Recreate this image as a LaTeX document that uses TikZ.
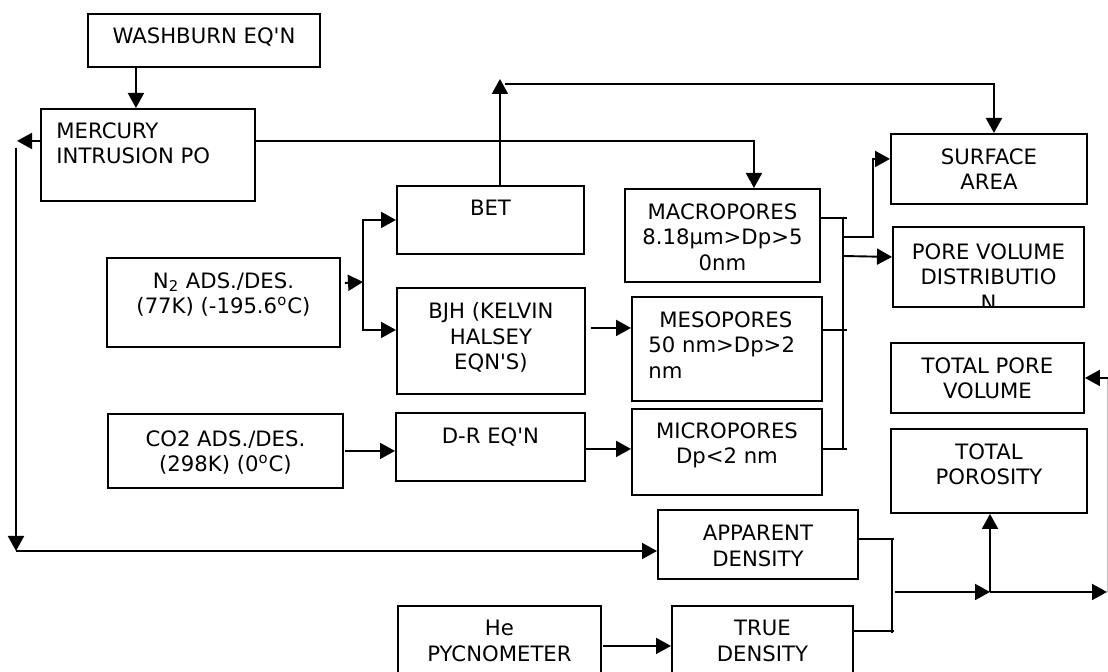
\documentclass[tikz,border=0pt]{standalone}
\usepackage{fontspec}
\setmainfont{DejaVu Sans}
\usepackage{tikz}
\usetikzlibrary{arrows.meta}
\tikzset{
    block/.style={
        draw, line width = 0.95pt,
        inner sep = 0pt,
        anchor = north west
    },
    lbl/.style = {
        inner sep = 0pt, align = center, anchor = north,
        font = \fontsize{10.6}{12.8}\selectfont
    },
    line/.style = {line width = 0.95pt, -{Triangle[length=7.5pt,width=8pt]}},
    bus/.style = {line width = 0.95pt}
}

\begin{document}
\begin{tikzpicture}[x=0.5pt, y=-0.5pt]

    \useasboundingbox (0,0) rectangle (1108,672);

    % Boxes
    \node[block, minimum width=116pt, minimum height=26.5pt] (wash) at (87,13) {};
    \node[block, minimum width=107pt, minimum height=46pt] (merc) at (40,108) {};
    \node[block, minimum width=93.5pt, minimum height=34pt] (bet) at (396,185) {};
    \node[block, minimum width=97.5pt, minimum height=46.5pt] (macro) at (624,188) {};
    \node[block, minimum width=98pt, minimum height=35pt] (surf) at (890,133) {};
    \node[block, minimum width=95.5pt, minimum height=40pt] (pvd) at (892,226) {};
    \node[block, minimum width=116.5pt, minimum height=44.5pt] (ntwo) at (106,257) {};
    \node[block, minimum width=94pt, minimum height=53pt] (bjh) at (396,287) {};
    \node[block, minimum width=95pt, minimum height=52pt] (meso) at (631,296) {};
    \node[block, minimum width=117.5pt, minimum height=37pt] (cotwo) at (107,413) {};
    \node[block, minimum width=94.5pt, minimum height=34pt] (dr) at (395,412) {};
    \node[block, minimum width=95pt, minimum height=43pt] (micro) at (631,408) {};
    \node[block, minimum width=96.5pt, minimum height=35pt] (tpv) at (890,342) {};
    \node[block, minimum width=98pt, minimum height=42pt] (tpor) at (890,428) {};
    \node[block, minimum width=100pt, minimum height=34.5pt] (app) at (657,509) {};
    \node[block, minimum width=90.5pt, minimum height=40pt] (tru) at (671,605) {};
    \node[block, minimum width=101.5pt, minimum height=40pt] (he) at (397,605) {};

    % Labels
    \node[lbl] (wash-t) at ([yshift=-7pt]wash.north) {WASHBURN EQ\textquotesingle N};
    \node[lbl, align=left, anchor=north west] (merc-t) at ([xshift=8pt,yshift=-7pt]merc.north west) {MERCURY\\INTRUSION PO};
    \node[lbl] (bet-t) at ([yshift=-7.5pt]bet.north) {BET};
    \node[lbl] (macro-t) at ([yshift=-7.5pt]macro.north) {MACROPORES\\8.18μm>Dp>5\\0nm};
    \node[lbl] (surf-t) at ([yshift=-7.5pt]surf.north) {SURFACE\\AREA};
    \begin{scope}
        \clip (pvd.south west) rectangle (pvd.north east);
        \node[lbl] (pvd-t) at ([yshift=-8.5pt]pvd.north) {PORE VOLUME\\DISTRIBUTIO\\N};
    \end{scope}
    \node[lbl] (ntwo-t) at ([yshift=-7.5pt]ntwo.north) {N\textsubscript{2} ADS./DES.\\(77K) (-195.6\textsuperscript{o}C)};
    \node[lbl] (bjh-t) at ([yshift=-7.5pt]bjh.north) {BJH (KELVIN\\HALSEY\\EQN\textquotesingle S)};
    \node[lbl, align=left, anchor=north west] (meso-t) at ([xshift=8.5pt,yshift=-7.5pt]meso.north west) {\hspace*{5.5pt}MESOPORES\\50 nm>Dp>2\\nm};
    \node[lbl] (cotwo-t) at ([yshift=-8.5pt]cotwo.north) {CO2 ADS./DES.\\(298K) (0\textsuperscript{o}C)};
    \node[lbl] (dr-t) at ([yshift=-7.5pt]dr.north) {D-R EQ\textquotesingle N};
    \node[lbl] (micro-t) at ([yshift=-7pt]micro.north) {MICROPORES\\Dp<2 nm};
    \node[lbl] (tpv-t) at ([yshift=-7.5pt]tpv.north) {TOTAL PORE\\VOLUME};
    \node[lbl] (tpor-t) at ([yshift=-7.5pt]tpor.north) {TOTAL\\POROSITY};
    \node[lbl] (app-t) at ([yshift=-8pt]app.north) {APPARENT\\DENSITY};
    \node[lbl] (tru-t) at ([yshift=-7.5pt]tru.north) {TRUE\\DENSITY};
    \node[lbl] (he-t) at ([yshift=-7.5pt]he.north) {He\\PYCNOMETER};

    % Junction points
    \coordinate (ltop) at (16,148);
    \coordinate (lbot) at (16,551);
    \coordinate (topl) at (505,84);
    \coordinate (nsplit) at (363,282);
    \coordinate (btop) at (843,217);
    \coordinate (bbot) at (843,448);
    \coordinate (bsa) at (843,237);
    \coordinate (bpv) at (843,256);
    \coordinate (dtop) at (892,538);
    \coordinate (dbot) at (892,633);
    \coordinate (dmid) at (895,592);
    \coordinate (pjn) at (990,592);
    \coordinate (rjn) at (1107,592);

    % Mercury branch
    \draw[line] ([xshift=-34pt]wash.south) -- ([xshift=-34pt]wash.south |- merc.north);
    \draw[line] ([yshift=7pt]merc.west) -- ++(-23,0);
    \draw[line] (ltop) -- (lbot);
    \draw[line] (lbot) -- (lbot -| app.west);
    \draw[line] ([yshift=7pt]merc.east) -| ([xshift=15.75pt]macro.north);

    % BET to surface area
    \draw[line] ([xshift=4.75pt]bet.north) -- ++(0,-106);
    \draw[line] (topl) -| ([xshift=2.5pt]surf.north);

    % Adsorption
    \draw[line] ([xshift=2pt,yshift=9.75pt]ntwo.east) -- (nsplit);
    \draw[line] (nsplit) |- (bet.west);
    \draw[line] (nsplit) |- ([yshift=5.5pt]bjh.west);
    \draw[line] ([xshift=2.5pt,yshift=6.5pt]bjh.east) -- ([yshift=10.5pt]meso.west);
    \draw[line] ([xshift=0.5pt]cotwo.east) -- (cotwo.east -| dr.west);
    \draw[line] ([yshift=-1pt]dr.east) -- ([yshift=1.5pt]micro.west);

    % Pore bus
    \draw[bus] ([yshift=8.75pt]macro.east) -- ++(26,0);
    \draw[bus] ([yshift=9.5pt]meso.east) -- ++(24,0);
    \draw[bus] ([yshift=1.5pt]micro.east) -- ++(24,0);
    \draw[bus] (btop) -- (bbot);
    \draw[line] (bsa) -- ++(30,0) |- ([yshift=5pt]surf.west);
    \draw[line] (bpv) -- ([yshift=5pt]pvd.west);

    % Densities
    \draw[line] ([xshift=0.5pt]he.east |- tru.west) -- (tru.west);
    \draw[bus] ([yshift=2.75pt]app.east) -- ++(35,0);
    \draw[bus] ([yshift=7.5pt]tru.east) -- ++(40,0);
    \draw[bus] (dtop) -- (dbot);
    \draw[line] (dmid) -- (pjn);
    \draw[line] (pjn) -- (pjn |- tpor.south);
    \draw[line] (pjn) -- (rjn);
    \draw[gray!50, line width=0.4pt] (rjn) -- (rjn |- tpv.east);
    \draw[line] ([xshift=0.5pt]rjn |- tpv.east) -- (tpv.east);

\end{tikzpicture}
\end{document}
